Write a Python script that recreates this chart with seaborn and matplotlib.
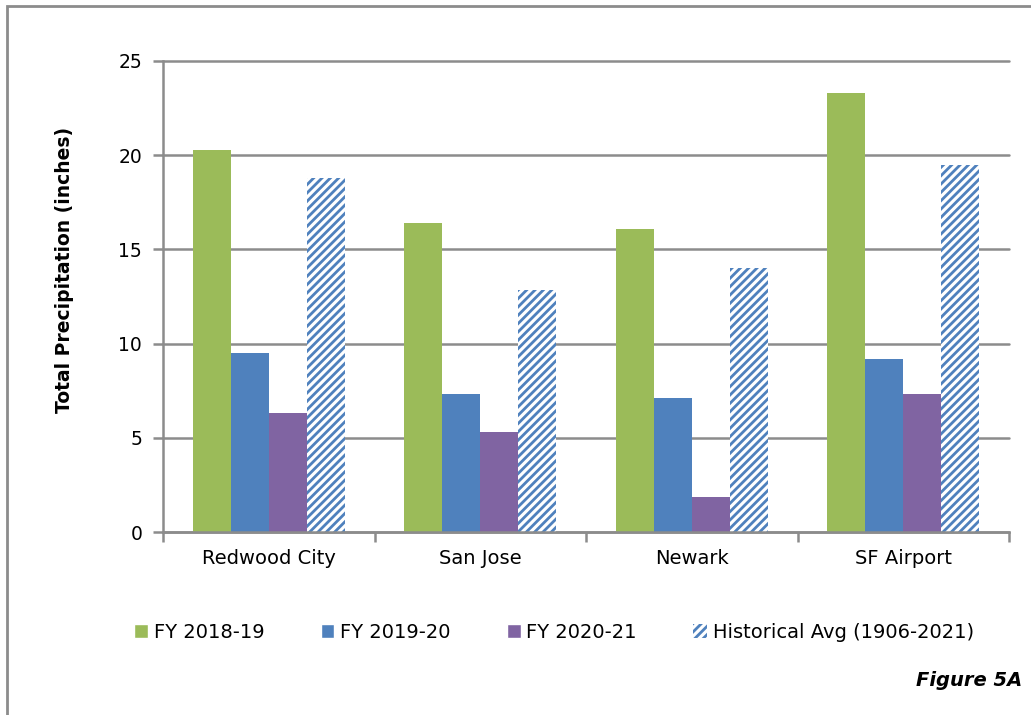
import pandas as pd
import matplotlib.pyplot as plt
import seaborn as sns
from matplotlib.patches import Patch, Rectangle

# Data
stations = ["Redwood City", "San Jose", "Newark", "SF Airport"]
series = ["FY 2018-19", "FY 2019-20", "FY 2020-21", "Historical Avg (1906-2021)"]
fy_2018_19 = [20.3, 16.4, 16.1, 23.3]
fy_2019_20 = [9.5, 7.3, 7.1, 9.2]
fy_2020_21 = [6.3, 5.3, 1.85, 7.3]
hist_avg = [18.8, 12.85, 14.0, 19.5]

colors = ["#9BBB59", "#4F81BD", "#8064A2", "#4F81BD"]

rows = []
for name, vals in zip(series, [fy_2018_19, fy_2019_20, fy_2020_21, hist_avg]):
    for st, v in zip(stations, vals):
        rows.append({"Station": st, "Series": name, "Precip": v})
df = pd.DataFrame(rows)

sns.set_style("white")
plt.rcParams["font.family"] = ["DejaVu Sans"]
plt.rcParams["text.color"] = "black"
plt.rcParams["xtick.labelcolor"] = "black"
plt.rcParams["ytick.labelcolor"] = "black"
plt.rcParams["hatch.linewidth"] = 2.0

fig = plt.figure(figsize=(10.31, 7.15), dpi=100)
ax = fig.add_axes([163 / 1031, 1 - 532 / 715, (1009 - 163) / 1031, (532 - 61) / 715])

sns.barplot(data=df, x="Station", y="Precip", hue="Series", order=stations,
            hue_order=series, palette=colors, width=0.72, saturation=1,
            linewidth=0, legend=False, ax=ax)

# hatched historical average bars
for bar in ax.containers[3]:
    bar.set_facecolor("white")
    bar.set_edgecolor("#4F81BD")
    bar.set_hatch("////")
    bar.set_linewidth(0)

ax.set_ylim(0, 25)
ax.set_yticks([0, 5, 10, 15, 20, 25])
ax.set_xlim(-0.5, 3.5)
ax.yaxis.grid(True, color="#8C8C8C", linewidth=1.8)
for gl in ax.get_ygridlines():
    gl.set_clip_on(False)
ax.set_axisbelow(True)
ax.set_xlabel("")
ax.set_ylabel("")

for s in ["top", "right"]:
    ax.spines[s].set_visible(False)
for s in ["left", "bottom"]:
    ax.spines[s].set_color("#8C8C8C")
    ax.spines[s].set_linewidth(1.8)

ax.tick_params(axis="y", which="major", direction="out", length=7, width=1.8,
               color="#8C8C8C", labelsize=13.5, pad=8, left=True, labelcolor="black")
ax.tick_params(axis="x", which="major", length=0, labelsize=14, pad=12,
               labelcolor="black")
ax.set_xticks([-0.5, 0.5, 1.5, 2.5, 3.5], minor=True)
ax.tick_params(axis="x", which="minor", direction="out", length=7, width=1.8,
               color="#8C8C8C", bottom=True)

fig.text(65 / 1031, 1 - 270 / 715, "Total Precipitation (inches)", rotation=90,
         ha="center", va="center", fontsize=13.5, fontweight="bold", color="black")

handles = [Patch(facecolor=colors[0]), Patch(facecolor=colors[1]),
           Patch(facecolor=colors[2]),
           Patch(facecolor="white", edgecolor="#4F81BD", hatch="////", linewidth=0)]
fig.legend(handles, series, loc="center", bbox_to_anchor=(554 / 1031, 1 - 632 / 715),
           ncol=4, frameon=False, fontsize=14, handlelength=0.7,
           handleheight=0.7, handletextpad=0.3, columnspacing=2.9,
           labelcolor="black")

fig.text(1022 / 1031, 1 - 680 / 715, "Figure 5A", ha="right", va="center",
         fontsize=14, fontweight="bold", fontstyle="italic", color="black")

# outer frame
fig.patches.append(Rectangle((7 / 1031, -0.1), 1.2, 1 - 6 / 715 + 0.1,
                             transform=fig.transFigure, fill=False,
                             edgecolor="#8C8C8C", linewidth=2))

fig.savefig("out.png", dpi=100)
